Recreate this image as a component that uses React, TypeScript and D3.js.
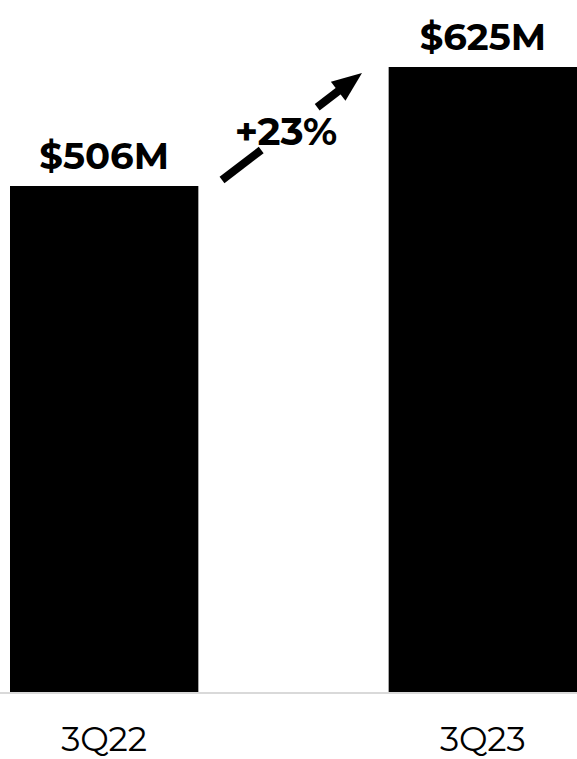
import React from "react";
import * as d3 from "d3";

const categories = ["3Q22", "3Q23"];
const values = [506, 625];
const valueLabels = ["$506M", "$625M"];
const growthLabel = "+23%";

const W = 577;
const H = 759;
const FONT = "Montserrat, 'DejaVu Sans', Verdana, sans-serif";

export default function App() {
  const baseY = 692;
  const x = d3.scaleBand<string>().domain(categories).range([10, 577]).paddingInner(0.5026).paddingOuter(0);
  const y = d3.scaleLinear().domain([0, 625]).range([baseY, baseY - 625]);

  // arrow geometry
  const a0: [number, number] = [222, 180];
  const a1: [number, number] = [362, 73];
  const lerp = (t: number): [number, number] => [a0[0] + (a1[0] - a0[0]) * t, a0[1] + (a1[1] - a0[1]) * t];
  const ang = Math.atan2(a1[1] - a0[1], a1[0] - a0[0]);
  const headLen = 30;
  const headHalf = 12;
  const hb: [number, number] = [a1[0] - headLen * Math.cos(ang), a1[1] - headLen * Math.sin(ang)];
  const px = -Math.sin(ang), py = Math.cos(ang);
  const head = `M${a1[0]},${a1[1]} L${hb[0] + px * headHalf},${hb[1] + py * headHalf} L${hb[0] - px * headHalf},${hb[1] - py * headHalf} Z`;
  const seg1 = [lerp(0), lerp(0.28)];
  const seg2 = [lerp(0.68), lerp(0.85)];

  return (
    <div style={{ position: "absolute", left: 0, top: 0, width: W, height: H, overflow: "hidden" }}>
      <svg width={W} height={H} style={{ display: "block", background: "#fff" }}>
        {categories.map((c, i) => (
          <rect key={c} x={x(c)} y={y(values[i])} width={x.bandwidth()} height={baseY - y(values[i])} fill="#000" />
        ))}
        <line x1={0} x2={W} y1={baseY + 1} y2={baseY + 1} stroke="#d9d9d9" strokeWidth={2} />
        {categories.map((c, i) => (
          <text key={c + "v"} x={x(c)! + x.bandwidth() / 2} y={y(values[i]) - 17} textAnchor="middle"
            fontFamily={FONT} fontWeight={700} fontSize={37} fill="#000">{valueLabels[i]}</text>
        ))}
        {categories.map((c) => (
          <text key={c + "c"} x={x(c)! + x.bandwidth() / 2} y={751} textAnchor="middle"
            fontFamily={FONT} fontWeight={400} fontSize={34} fill="#000">{c}</text>
        ))}
        <line x1={seg1[0][0]} y1={seg1[0][1]} x2={seg1[1][0]} y2={seg1[1][1]} stroke="#000" strokeWidth={8} />
        <line x1={seg2[0][0]} y1={seg2[0][1]} x2={seg2[1][0]} y2={seg2[1][1]} stroke="#000" strokeWidth={8} />
        <path d={head} fill="#000" />
        <text x={286} y={145} textAnchor="middle" fontFamily={FONT} fontWeight={700} fontSize={39} fill="#000">{growthLabel}</text>
      </svg>
    </div>
  );
}
